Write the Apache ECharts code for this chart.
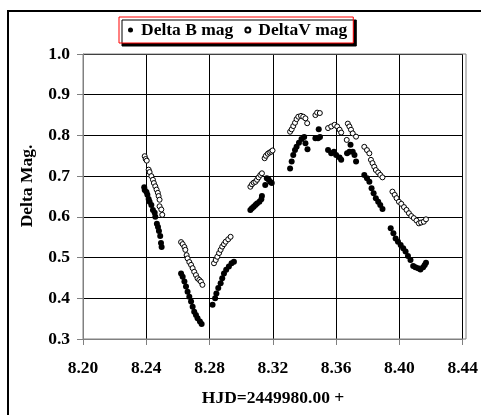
<!DOCTYPE html>
<html><head><meta charset="utf-8">
<script src="https://cdn.jsdelivr.net/npm/echarts@6/dist/echarts.min.js"></script>
<style>html,body{margin:0;padding:0;background:#fff}#c{width:481px;height:415px}</style>
</head><body><div id="c"></div>
<script>
var xTicks = [8.20, 8.24, 8.28, 8.32, 8.36, 8.40, 8.44];
var yTicks = [0.3, 0.4, 0.5, 0.6, 0.7, 0.8, 0.9, 1.0];

var bHJD = [
 8.2387,8.2390,8.2401,8.2407,8.2415,8.2421,8.2432,8.2442,8.2453,8.2457,8.2467,8.2474,8.2480,8.2488,8.2493,8.2497,
 8.2620,8.2630,8.2641,8.2651,8.2661,8.2672,8.2683,8.2693,8.2703,8.2714,8.2724,8.2739,8.2750,
 8.2819,8.2835,8.2843,8.2855,8.2870,8.2880,8.2891,8.2905,8.2922,8.2939,8.2954,
 8.3058,8.3068,8.3079,8.3090,8.3100,8.3115,8.3127,8.3131,8.3152,8.3162,8.3173,8.3183,8.3193,
 8.3309,8.3319,8.3329,8.3340,8.3350,8.3365,8.3381,8.3398,8.3406,8.3419,8.3469,8.3486,8.3498,8.3490,
 8.3549,8.3569,8.3586,8.3600,8.3622,8.3632,8.3669,8.3684,8.3691,8.3705,8.3716,8.3726,
 8.3778,8.3795,8.3810,8.3824,8.3837,8.3851,8.3866,8.3879,8.3893,
 8.3945,8.3962,8.3976,8.3991,8.4008,8.4024,8.4039,8.4054,8.4070,8.4087,8.4101,8.4118,8.4133,8.4150,8.4160,8.4168
];
var bMag = [
 0.673,0.666,0.661,0.654,0.644,0.637,0.629,0.617,0.610,0.600,0.583,0.575,0.565,0.553,0.536,0.526,
 0.461,0.453,0.441,0.429,0.416,0.404,0.392,0.379,0.367,0.359,0.351,0.343,0.337,
 0.384,0.400,0.412,0.425,0.437,0.449,0.461,0.470,0.478,0.486,0.490,
 0.617,0.621,0.625,0.629,0.633,0.637,0.643,0.651,0.678,0.695,0.692,0.686,0.683,
 0.719,0.736,0.752,0.764,0.772,0.782,0.791,0.796,0.781,0.766,0.793,0.793,0.796,0.815,
 0.764,0.756,0.760,0.752,0.746,0.740,0.756,0.760,0.777,0.760,0.752,0.736,
 0.703,0.695,0.686,0.670,0.658,0.646,0.637,0.629,0.619,
 0.572,0.560,0.547,0.539,0.531,0.523,0.515,0.504,0.494,0.479,0.476,0.474,0.471,0.476,0.482,0.487
];

var vHJD = [
 8.2390,8.2396,8.2403,8.2415,8.2421,8.2432,8.2442,8.2448,8.2457,8.2465,8.2473,8.2478,8.2484,8.2484,8.2495,8.2501,
 8.2620,8.2630,8.2641,8.2647,8.2655,8.2661,8.2672,8.2683,8.2693,8.2703,8.2714,8.2724,8.2735,8.2745,8.2755,
 8.2828,8.2839,8.2849,8.2860,8.2870,8.2880,8.2891,8.2902,8.2918,8.2933,
 8.3058,8.3068,8.3079,8.3090,8.3100,8.3110,8.3121,8.3131,8.3148,8.3156,8.3168,8.3179,8.3190,8.3198,
 8.3309,8.3319,8.3329,8.3340,8.3350,8.3361,8.3378,8.3392,8.3406,8.3417,8.3469,8.3480,8.3497,
 8.3549,8.3569,8.3590,8.3607,8.3622,8.3632,8.3667,8.3674,8.3684,8.3694,8.3705,8.3726,
 8.3778,8.3795,8.3810,8.3820,8.3830,8.3841,8.3851,8.3866,8.3879,8.3893,
 8.3956,8.3970,8.3982,8.3997,8.4012,8.4029,8.4045,8.4060,8.4075,8.4091,8.4108,8.4123,8.4137,8.4154,8.4168
];
var vMag = [
 0.749,0.742,0.738,0.716,0.710,0.700,0.691,0.683,0.675,0.667,0.659,0.651,0.642,0.626,0.618,0.605,
 0.538,0.533,0.526,0.519,0.506,0.498,0.489,0.482,0.474,0.465,0.457,0.449,0.445,0.441,0.433,
 0.486,0.494,0.502,0.511,0.519,0.527,0.533,0.539,0.545,0.551,
 0.674,0.680,0.684,0.686,0.691,0.697,0.703,0.707,0.744,0.750,0.755,0.758,0.760,0.763,
 0.809,0.815,0.823,0.831,0.840,0.846,0.848,0.846,0.842,0.830,0.850,0.856,0.855,
 0.818,0.822,0.826,0.822,0.814,0.807,0.789,0.829,0.822,0.814,0.805,0.797,
 0.772,0.764,0.756,0.740,0.732,0.723,0.715,0.709,0.703,0.697,
 0.662,0.654,0.646,0.637,0.632,0.624,0.617,0.609,0.602,0.597,0.591,0.584,0.586,0.588,0.594
];

function zip(a, b) { return a.map(function (v, i) { return [v, b[i]]; }); }

var FONT = '"Liberation Serif", "Times New Roman", serif';
var FS = 17.5;
var chart = echarts.init(document.getElementById('c'), null, {renderer: 'canvas'});
chart.setOption({
  animation: false,
  backgroundColor: '#fff',
  grid: {left: 83, right: 15, top: 54, bottom: 76, containLabel: false},
  legend: {
    left: 119, top: 17,
    padding: [4, 6, 4, 9],
    itemGap: 11, itemWidth: 5, itemHeight: 5,
    backgroundColor: '#fff', borderColor: '#ff0000', borderWidth: 1,
    shadowColor: '#000', shadowBlur: 0, shadowOffsetX: 3, shadowOffsetY: 3,
    textStyle: {fontFamily: FONT, fontWeight: 'bold', fontSize: FS, color: '#000', padding: [0, 0, 0, 3]},
    data: [{name: 'Delta B mag', icon: 'circle'}, {name: 'DeltaV mag', icon: 'circle'}]
  },
  xAxis: {
    type: 'value', min: 8.20, max: 8.44, interval: 0.04,
    axisLine: {show: true, lineStyle: {color: '#808080', width: 1}},
    axisTick: {show: true, inside: false, length: 6, lineStyle: {color: '#808080'}},
    axisLabel: {fontFamily: FONT, fontWeight: 'bold', fontSize: FS, color: '#000', margin: 20,
      formatter: function (v) { return v.toFixed(2); }},
    splitLine: {show: true, lineStyle: {color: '#000', width: 1}}
  },
  yAxis: {
    type: 'value', min: 0.3, max: 1.0, interval: 0.1,
    axisLine: {show: true, lineStyle: {color: '#808080', width: 1}},
    axisTick: {show: true, inside: false, length: 6, lineStyle: {color: '#808080'}},
    axisLabel: {fontFamily: FONT, fontWeight: 'bold', fontSize: FS, color: '#000', margin: 13,
      formatter: function (v) { return v.toFixed(1); }},
    splitLine: {show: true, lineStyle: {color: '#000', width: 1}}
  },
  graphic: [
    {type: 'rect', z: 100, silent: true, shape: {x: 8, y: 11, width: 520, height: 460},
      style: {fill: 'none', stroke: '#000', lineWidth: 2}},
    {type: 'rect', z: 100, silent: true, shape: {x: 83, y: 54, width: 383, height: 285},
      style: {fill: 'none', stroke: '#808080', lineWidth: 1}},
    {type: 'text', z: 100, x: 273, y: 398, style: {text: 'HJD=2449980.00 +', fontFamily: FONT, fontWeight: 'bold', fontSize: FS, fill: '#000', textAlign: 'center', textVerticalAlign: 'middle'}},
    {type: 'text', z: 100, x: 27, y: 186, rotation: Math.PI / 2, style: {text: 'Delta Mag.', fontFamily: FONT, fontWeight: 'bold', fontSize: FS, fill: '#000', textAlign: 'center', textVerticalAlign: 'middle'}}
  ],
  series: [
    {name: 'Delta B mag', type: 'scatter', symbol: 'circle', symbolSize: 6,
      itemStyle: {color: '#000', opacity: 1}, data: zip(bHJD, bMag), z: 3},
    {name: 'DeltaV mag', type: 'scatter', symbol: 'circle', symbolSize: 5,
      itemStyle: {color: '#fff', borderColor: '#000', borderWidth: 1, opacity: 1}, data: zip(vHJD, vMag), z: 4}
  ]
});
</script></body></html>
